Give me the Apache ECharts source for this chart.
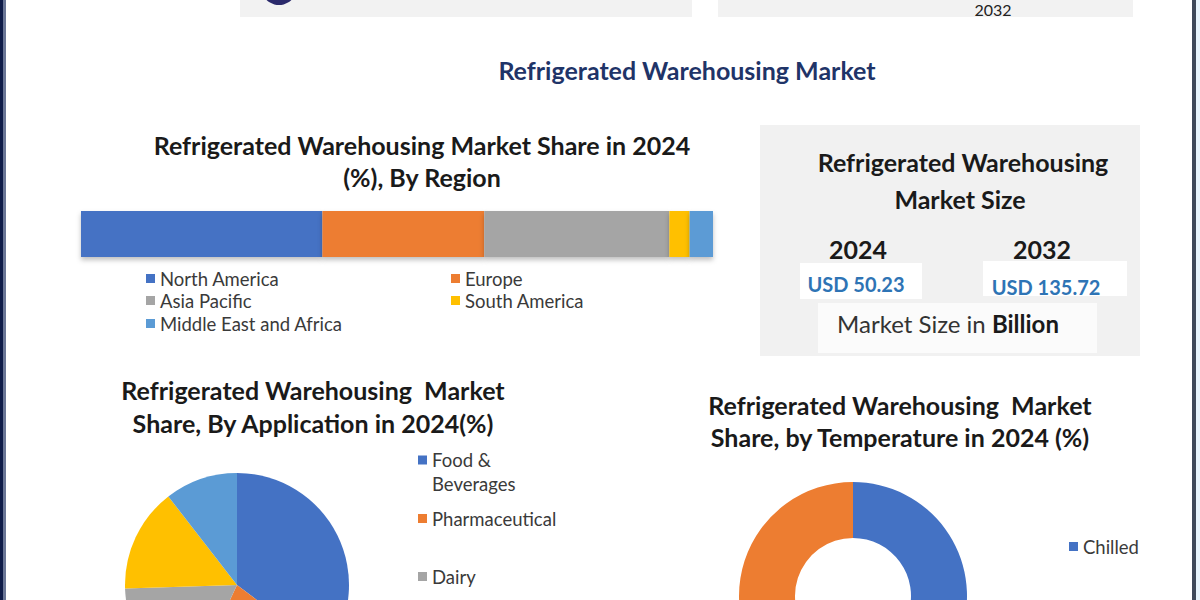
<!DOCTYPE html>
<html>
<head>
<meta charset="utf-8">
<script src="https://cdn.jsdelivr.net/npm/echarts@6/dist/echarts.min.js"></script>
<style>
html,body{margin:0;padding:0;background:#ffffff;}
#chart{width:1200px;height:600px;}
</style>
</head>
<body>
<div id="chart"></div>
<script>
// ---- data ----
const mainTitle = 'Refrigerated Warehousing Market';
const regionTitle = ['Refrigerated Warehousing Market Share in 2024', '(%), By Region'];
const regionNames = ['North America', 'Europe', 'Asia Pacific', 'South America', 'Middle East and Africa'];
const regionShares = [38.2, 25.6, 29.3, 3.2, 3.7];

const sizeTitle = ['Refrigerated Warehousing', 'Market Size'];
const sizeYears = ['2024', '2032'];
const sizeValues = ['USD 50.23', 'USD 135.72'];
const sizeUnit = 'Billion';

const appTitle = ['Refrigerated Warehousing  Market', 'Share, By Application in 2024(%)'];
const appNames = ['Food & Beverages', 'Pharmaceutical', 'Dairy', 'Meat & Seafood', 'Others'];
const appShares = [35.3, 21.7, 17.5, 15.0, 10.5];

const tempTitle = ['Refrigerated Warehousing  Market', 'Share, by Temperature in 2024 (%)'];
const tempNames = ['Chilled', 'Frozen'];
const tempShares = [60, 40];

const palette = ['#4472C4', '#ED7D31', '#A5A5A5', '#FFC000', '#5B9BD5'];
const FONT = 'Lato';

// ---- chart ----
const chart = echarts.init(document.getElementById('chart'), null, {renderer: 'svg'});

function txt(x, y, text, size, opts) {
  return Object.assign({
    type: 'text', x: x, y: y,
    style: Object.assign({
      text: text, font: 'bold ' + size + 'px ' + FONT, fill: '#1a1a1a',
      textAlign: 'center', textVerticalAlign: 'middle'
    }, (opts && opts.style) || {})
  }, (opts && opts.el) || {});
}

const legendBase = {
  icon: 'rect', itemWidth: 9, itemHeight: 9, orient: 'vertical',
  textStyle: {fontFamily: FONT, fontSize: 18.5, color: '#3a3a3a'},
  selectedMode: false, padding: 0
};
function leg(left, top, names, extra) {
  return Object.assign({}, legendBase, {left: left, top: top, data: names}, extra || {});
}
// square marker at the top of a taller box, so it lines up with the first line of a two-line name
const topSquare = 'path://M0,0h9v9h-9z M0,33h0.01v0.01h-0.01z';

const option = {
  backgroundColor: '#ffffff',
  animation: false,
  color: palette,
  graphic: [
    // page borders
    {type: 'rect', shape: {x: 0, y: 0, width: 3, height: 600}, style: {fill: '#0f1c48'}},
    {type: 'rect', shape: {x: 3, y: 0, width: 3, height: 600}, style: {fill: '#6a7696'}},
    {type: 'rect', shape: {x: 1192, y: 0, width: 4, height: 600}, style: {fill: '#3e4858'}},
    {type: 'rect', shape: {x: 1196, y: 0, width: 4, height: 600}, style: {fill: '#e6f3fb'}},
    // top partial panels
    {type: 'rect', shape: {x: 240, y: 0, width: 452, height: 17}, style: {fill: '#f2f2f2'}},
    {type: 'rect', shape: {x: 718, y: 0, width: 415, height: 17}, style: {fill: '#f2f2f2'}},
    {type: 'circle', shape: {cx: 279, cy: -13, r: 18}, style: {fill: '#2b2a6b'}},
    txt(993, 9, '2032', 16, {style: {font: '16px ' + FONT, fill: '#222222'}}),
    // main title
    txt(687, 70, mainTitle, 25, {style: {fill: '#1f3468'}}),
    // region chart title
    txt(422, 145, regionTitle[0], 25),
    txt(422, 177, regionTitle[1], 25),
    // market size panel
    {type: 'rect', shape: {x: 760, y: 125, width: 380, height: 231}, style: {fill: '#f1f1f1'}},
    txt(963, 162, sizeTitle[0], 25),
    txt(960, 199, sizeTitle[1], 25),
    txt(858, 249, sizeYears[0], 25),
    txt(1042, 249, sizeYears[1], 25),
    {type: 'rect', shape: {x: 800, y: 263, width: 122, height: 36}, style: {fill: '#ffffff'}},
    {type: 'rect', shape: {x: 983, y: 261, width: 144, height: 35}, style: {fill: '#ffffff'}},
    {type: 'rect', shape: {x: 818, y: 303, width: 279, height: 50}, style: {fill: '#fbfbfb'}},
    txt(856, 284, sizeValues[0], 20, {style: {fill: '#2e74b5'}}),
    txt(1046, 287, sizeValues[1], 20, {style: {fill: '#2e74b5'}}),
    {type: 'text', x: 948, y: 323, style: {
      text: '{n|Market Size in }{b|' + sizeUnit + '}', textAlign: 'center', textVerticalAlign: 'middle',
      rich: {n: {fontFamily: FONT, fontSize: 24, fill: '#333333', color: '#333333'},
             b: {fontFamily: FONT, fontSize: 24, fontWeight: 'bold', fill: '#1a1a1a', color: '#1a1a1a'}}
    }},
    // pie titles
    txt(313, 390, appTitle[0], 25),
    txt(313, 423, appTitle[1], 25),
    txt(900, 405, tempTitle[0], 25),
    txt(900, 437, tempTitle[1], 25)
  ],
  legend: [
    leg(146, 269, [regionNames[0]]),
    leg(451, 269, [regionNames[1]]),
    leg(146, 291, [regionNames[2]]),
    leg(451, 291, [regionNames[3]]),
    leg(146, 314, [regionNames[4]]),
    leg(418, 448, [appNames[0]], {
      icon: topSquare, itemHeight: 33,
      formatter: n => n.replace('& ', '&\n'),
      textStyle: {fontFamily: FONT, fontSize: 18.5, color: '#3a3a3a', lineHeight: 24}
    }),
    leg(418, 509, [appNames[1]]),
    leg(418, 567, [appNames[2]]),
    leg(1069, 537, [tempNames[0]])
  ],
  grid: {left: 81, top: 211, width: 632, height: 46},
  xAxis: {type: 'value', min: 0, max: 100, show: false},
  yAxis: {type: 'category', data: ['2024'], show: false},
  series: regionNames.map((n, i) => ({
    type: 'bar', name: n, stack: 'region', barWidth: '100%',
    data: [regionShares[i]],
    itemStyle: {color: palette[i], shadowBlur: 5, shadowColor: 'rgba(0,0,0,0.25)', shadowOffsetY: 3}
  })).concat([
    {
      type: 'pie', name: 'Application', center: [237, 585], radius: 112,
      startAngle: 90, clockwise: true, label: {show: false}, labelLine: {show: false},
      data: appNames.map((n, i) => ({name: n, value: appShares[i], itemStyle: {color: palette[i]}}))
    },
    {
      type: 'pie', name: 'Temperature', center: [853, 596], radius: [58, 114],
      startAngle: 90, clockwise: true, label: {show: false}, labelLine: {show: false},
      data: tempNames.map((n, i) => ({name: n, value: tempShares[i], itemStyle: {color: palette[i]}}))
    }
  ])
};
chart.setOption(option);
</script>
</body>
</html>
